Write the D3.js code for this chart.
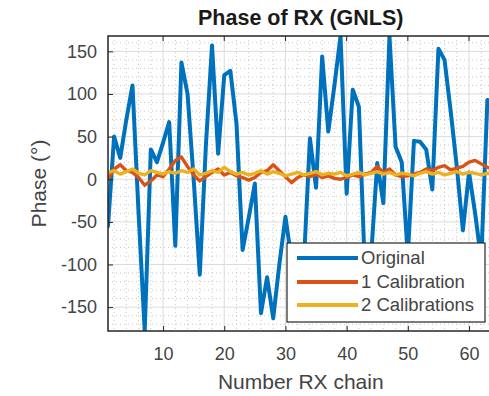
<!DOCTYPE html>
<html>
<head>
<meta charset="utf-8">
<script src="https://cdn.jsdelivr.net/npm/d3@7"></script>
<style>
  html, body { margin: 0; padding: 0; background: #fff; }
  svg { display: block; font-family: "Liberation Sans", Arial, Helvetica, sans-serif; }
</style>
</head>
<body>
<svg id="chart" width="489" height="396"></svg>
<script>
// RX chain indices 1..64
const chains = d3.range(1, 65);

// Phase per RX chain (degrees)
const original = [
  -55, 50, 25, 70, 110, -40, -178, 35, 20, 43,
   67, -78, 137, 100, 0, -112, 40, 157, 30, 122,
  127, 65, -83, -45, -5, -157, -115, -163, -100, -44,
  -95, -85, -100, 48, -10, 144, 56, 110, 168, -17,
  105, 85, -110, -90, 19, -28, 168, 38, 20, -90,
   45, 44, 35, -12, 153, 140, 80, 15, -60, 8,
  -40, -95, 93, 90
];
const oneCal = [
   0, 12, 17, 10, 8, 2, -7, -2, 5, 3,
  12, 22, 26, 15, 5, -2, 3, 8, 12, 5,
   8, 4, 2, -1, 2, 8, 10, 17, 10, 3,
  -4, 2, 5, 3, 6, 2, 4, 1, 0, 2,
   5, 3, 6, 8, 15, 8, 12, 5, 3, 4,
   6, 8, 12, 10, 14, 16, 11, 13, 15, 20,
  22, 18, 14, 12
];
const twoCal = [
   8, 10, 6, 9, 12, 7, 5, 10, 8, 6,
   9, 7, 10, 8, 12, 5, 7, 10, 8, 14,
   9, 6, 8, 5, 7, 10, 6, 9, 7, 4,
   6, 8, 5, 7, 9, 5, 7, 6, 8, 4,
   6, 8, 5, 7, 9, 6, 8, 5, 7, 6,
   4, 7, 9, 6, 8, 5, 7, 9, 6, 8,
   7, 5, 7, 6
];

const seriesNames = ["Original", "1 Calibration", "2 Calibrations"];
const seriesColors = ["#0072BD", "#D95319", "#EDB120"];
const xTicks = [10, 20, 30, 40, 50, 60];
const yTicks = [-150, -100, -50, 0, 50, 100, 150];

const titleText = "Phase of RX (GNLS)";
const xLabel = "Number RX chain";
const yLabel = "Phase (\u00B0)";

const svg = d3.select("#chart");
const plot = { left: 108, right: 493.5, top: 36, bottom: 331 };

const x = d3.scaleLinear().domain([1, 64]).range([plot.left, plot.right]);
const y = d3.scaleLinear().domain([-178, 168]).range([plot.bottom, plot.top]);

const axisColor = "#262626";
const textColor = "#444";

// clip region for the plot box
svg.append("defs").append("clipPath").attr("id", "plotClip")
  .append("rect")
  .attr("x", plot.left).attr("y", plot.top)
  .attr("width", plot.right - plot.left).attr("height", plot.bottom - plot.top);

// minor grid (dotted)
const xMinor = d3.range(2, 64, 2).filter(v => v % 10 !== 0);
const yMinor = d3.range(-170, 170, 10).filter(v => v % 50 !== 0);
const grid = svg.append("g");
grid.selectAll("line.xm").data(xMinor).join("line")
  .attr("x1", d => x(d)).attr("x2", d => x(d))
  .attr("y1", plot.top).attr("y2", plot.bottom)
  .attr("stroke", "#c8c8c8").attr("stroke-width", 1)
  .attr("stroke-dasharray", "1,3");
grid.selectAll("line.ym").data(yMinor).join("line")
  .attr("x1", plot.left).attr("x2", plot.right)
  .attr("y1", d => y(d)).attr("y2", d => y(d))
  .attr("stroke", "#c8c8c8").attr("stroke-width", 1)
  .attr("stroke-dasharray", "1,3");

// major grid (solid, light)
grid.selectAll("line.xg").data(xTicks).join("line")
  .attr("x1", d => x(d)).attr("x2", d => x(d))
  .attr("y1", plot.top).attr("y2", plot.bottom)
  .attr("stroke", "#dcdcdc").attr("stroke-width", 1);
grid.selectAll("line.yg").data(yTicks).join("line")
  .attr("x1", plot.left).attr("x2", plot.right)
  .attr("y1", d => y(d)).attr("y2", d => y(d))
  .attr("stroke", "#dcdcdc").attr("stroke-width", 1);

// data lines
const line = d3.line().x((d, i) => x(chains[i])).y(d => y(d));
const lines = svg.append("g").attr("clip-path", "url(#plotClip)");
[original, oneCal, twoCal].forEach((vals, k) => {
  lines.append("path")
    .datum(vals)
    .attr("d", line)
    .attr("fill", "none")
    .attr("stroke", seriesColors[k])
    .attr("stroke-width", k === 0 ? 4 : 3.4)
    .attr("stroke-linejoin", "round")
    .attr("stroke-linecap", "round");
});

// axes (ticks pointing inward, labels outside)
const fmt = d => String(d);
const xAxis = d3.axisBottom(x).tickValues(xTicks).tickFormat(fmt).tickSize(-5).tickPadding(16);
const yAxis = d3.axisLeft(y).tickValues(yTicks).tickFormat(fmt).tickSize(-5).tickPadding(11);

const gx = svg.append("g").attr("transform", `translate(0,${plot.bottom})`).call(xAxis);
const gy = svg.append("g").attr("transform", `translate(${plot.left},0)`).call(yAxis);
[gx, gy].forEach(g => {
  g.select(".domain").remove();
  g.selectAll(".tick line").attr("stroke", axisColor).attr("stroke-width", 1);
  g.selectAll(".tick text").attr("fill", textColor).attr("font-size", 18)
    .attr("font-family", "'Liberation Sans', Arial, sans-serif");
});
gx.selectAll(".tick text").attr("dy", "0.71em");

// top ticks
svg.append("g").selectAll("line").data(xTicks).join("line")
  .attr("x1", d => x(d)).attr("x2", d => x(d))
  .attr("y1", plot.top).attr("y2", plot.top + 5)
  .attr("stroke", axisColor);

// box
svg.append("rect")
  .attr("x", plot.left).attr("y", plot.top)
  .attr("width", plot.right - plot.left).attr("height", plot.bottom - plot.top)
  .attr("fill", "none").attr("stroke", axisColor).attr("stroke-width", 1.5);

// title and labels
svg.append("text")
  .attr("x", (plot.left + plot.right) / 2).attr("y", 25)
  .attr("text-anchor", "middle")
  .attr("font-size", 21.5).attr("font-weight", "bold").attr("fill", "#1a1a1a")
  .text(titleText);

svg.append("text")
  .attr("x", (plot.left + plot.right) / 2).attr("y", 389)
  .attr("text-anchor", "middle")
  .attr("font-size", 21).attr("fill", textColor)
  .text(xLabel);

svg.append("text")
  .attr("transform", `translate(46,${(plot.top + plot.bottom) / 2}) rotate(-90)`)
  .attr("text-anchor", "middle")
  .attr("font-size", 21).attr("fill", textColor)
  .text(yLabel);

// legend
const legend = svg.append("g");
legend.append("rect")
  .attr("x", 287).attr("y", 243).attr("width", 198).attr("height", 79)
  .attr("fill", "#fff").attr("stroke", axisColor).attr("stroke-width", 1.2);
const rowY = [258, 282, 305];
seriesNames.forEach((name, k) => {
  legend.append("line")
    .attr("x1", 297).attr("x2", 358)
    .attr("y1", rowY[k]).attr("y2", rowY[k])
    .attr("stroke", seriesColors[k]).attr("stroke-width", 3.8);
  legend.append("text")
    .attr("x", 361).attr("y", rowY[k]).attr("dy", "0.35em")
    .attr("font-size", 18.5).attr("fill", textColor)
    .text(name);
});
</script>
</body>
</html>
